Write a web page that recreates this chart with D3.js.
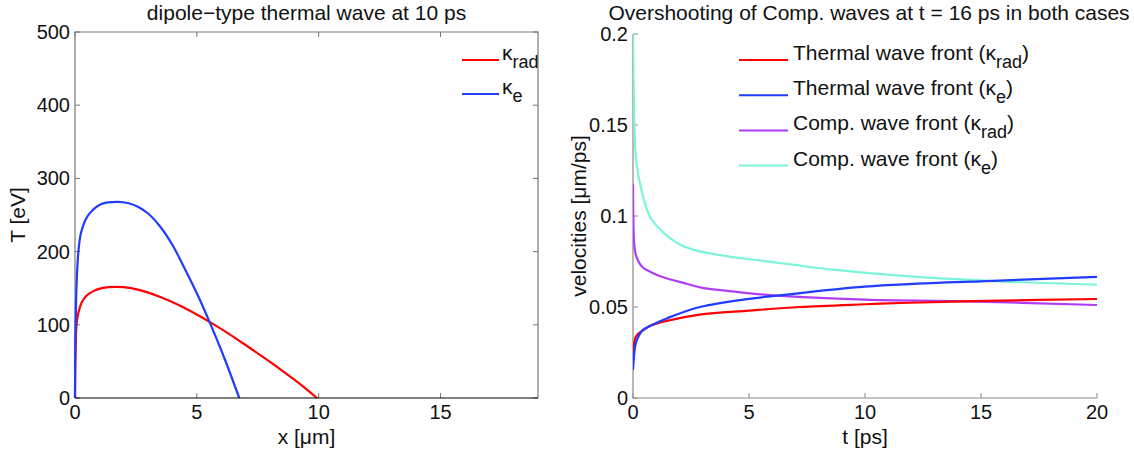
<!DOCTYPE html>
<html>
<head>
<meta charset="utf-8">
<script src="https://cdn.jsdelivr.net/npm/d3@7"></script>
<style>
  html, body { margin: 0; padding: 0; background: #fff; }
  svg { display: block; }
  text { font-family: "Liberation Sans", Arial, Helvetica, sans-serif; fill: #111; }
</style>
</head>
<body>
<svg id="chart" width="1134" height="453"></svg>
<script>
// ---------- Left panel data: temperature profiles at 10 ps ----------
const leftTitle = "dipole\u2212type thermal wave at 10 ps";
const leftXTicks = [0, 5, 10, 15];
const leftYTicks = [0, 100, 200, 300, 400, 500];
const xRad = [0, 0.02, 0.07, 0.15, 0.27, 0.45, 0.75, 1.1, 1.71, 2.3, 2.81, 3.5, 4.32, 5.0, 5.52, 6.3, 7.06, 7.8, 8.43, 9.2, 9.93];
const tRad = [0, 60, 103, 118, 130, 139, 146, 150, 151.7, 150, 146, 138, 126, 114, 104, 88, 71, 54, 39, 20, 0];
const xE   = [0, 0.02, 0.05, 0.09, 0.14, 0.25, 0.53, 1.08, 1.78, 2.2, 2.6, 3.0, 3.5, 4.0, 4.5, 5.0, 5.52, 6.1, 6.74];
const tE   = [0, 90, 140, 175, 200, 226, 249, 265, 268, 266, 261, 252, 234, 209, 177, 143, 104, 57, 0];

// ---------- Right panel data: front velocities ----------
const rightTitle = "Overshooting of Comp. waves at t = 16 ps in both cases";
const rightXTicks = [0, 5, 10, 15, 20];
const rightYTicks = [0, 0.05, 0.1, 0.15, 0.2];
const rightYLabels = ["0", "0.05", "0.1", "0.15", "0.2"];
const tThRad = [0, 0.05, 0.1, 0.2, 0.4, 0.8, 1.5, 2.88, 5, 7.2, 10, 11.5, 15.8, 20];
const vThRad = [0.0237, 0.030, 0.033, 0.035, 0.037, 0.040, 0.0425, 0.0458, 0.048, 0.050, 0.0515, 0.0522, 0.0535, 0.0544];
const tThE   = [0, 0.05, 0.1, 0.2, 0.4, 0.8, 1.5, 2.88, 5, 6.2, 10, 15.8, 20];
const vThE   = [0.0155, 0.024, 0.029, 0.033, 0.037, 0.040, 0.044, 0.050, 0.0545, 0.0562, 0.0612, 0.0645, 0.0665];
const tCpRad = [0, 0.02, 0.05, 0.1, 0.2, 0.4, 0.8, 1.2, 2.3, 3, 4, 6.2, 10, 14.4, 20];
const vCpRad = [0.1177, 0.095, 0.085, 0.080, 0.076, 0.072, 0.069, 0.0668, 0.0628, 0.0605, 0.059, 0.0562, 0.054, 0.0531, 0.0511];
const tCpE   = [0, 0.03, 0.07, 0.15, 0.36, 0.72, 1.1, 1.58, 2.0, 2.59, 3.74, 5.75, 8.63, 11.5, 15.8, 20];
const vCpE   = [0.2, 0.17, 0.147, 0.129, 0.1145, 0.0998, 0.0935, 0.088, 0.0845, 0.0815, 0.0785, 0.0751, 0.0705, 0.0672, 0.0641, 0.0623];

const legendLeft = [
  {k: "rad", color: "#ff0000"},
  {k: "e",   color: "#1f3cff"}
];
const legendRight = [
  {label: "Thermal wave front (", k: "rad", color: "#ff0000"},
  {label: "Thermal wave front (", k: "e",   color: "#1f3cff"},
  {label: "Comp. wave front (",   k: "rad", color: "#b13cf5"},
  {label: "Comp. wave front (",   k: "e",   color: "#7af5d9"}
];

const svg = d3.select("#chart");
svg.append("rect").attr("width", 1134).attr("height", 453).attr("fill", "#fff");

const FS_TICK = 20, FS_LAB = 21, FS_TITLE = 21, FS_LEG = 21, FS_SUB = 18;
const zip = (xs, ys) => xs.map((x, i) => [x, ys[i]]);
const curve = d3.curveCatmullRom.alpha(0.5);

// ================= LEFT PANEL =================
{
  const x = d3.scaleLinear().domain([0, 19]).range([75, 538]);
  const y = d3.scaleLinear().domain([0, 500]).range([398, 32]);
  const g = svg.append("g");

  g.append("path")
    .attr("d", `M${x(0)},${y(0)}V${y(500)}H${x(19)}V${y(0)}`)
    .attr("fill", "none").attr("stroke", "#7a7a7a").attr("stroke-width", 1.2);

  leftXTicks.forEach(v => {
    g.append("line").attr("x1", x(v)).attr("x2", x(v)).attr("y1", y(0)).attr("y2", y(0) - 5).attr("stroke", "#777");
    g.append("line").attr("x1", x(v)).attr("x2", x(v)).attr("y1", y(500)).attr("y2", y(500) + 5).attr("stroke", "#777");
  });
  leftYTicks.forEach(v => {
    g.append("line").attr("x1", x(0)).attr("x2", x(0) + 5).attr("y1", y(v)).attr("y2", y(v)).attr("stroke", "#777");
    g.append("line").attr("x1", x(19)).attr("x2", x(19) - 5).attr("y1", y(v)).attr("y2", y(v)).attr("stroke", "#777");
  });

  const line = d3.line().x(d => x(d[0])).y(d => y(d[1])).curve(curve);
  g.append("path").datum(zip(xRad, tRad)).attr("d", line)
    .attr("fill", "none").attr("stroke", legendLeft[0].color).attr("stroke-width", 2.2);
  g.append("path").datum(zip(xE, tE)).attr("d", line)
    .attr("fill", "none").attr("stroke", legendLeft[1].color).attr("stroke-width", 2.2);

  g.append("line").attr("x1", x(0)).attr("x2", x(19)).attr("y1", y(0)).attr("y2", y(0))
    .attr("stroke", "#000").attr("stroke-width", 1.2);

  leftXTicks.forEach(v => {
    g.append("text").attr("x", x(v)).attr("y", y(0) + 21).attr("text-anchor", "middle")
      .attr("font-size", FS_TICK).text(v);
  });
  leftYTicks.forEach(v => {
    g.append("text").attr("x", x(0) - 5).attr("y", y(v) + 7).attr("text-anchor", "end")
      .attr("font-size", FS_TICK).text(v);
  });

  g.append("text").attr("x", (x(0) + x(19)) / 2).attr("y", 444).attr("text-anchor", "middle")
    .attr("font-size", FS_LAB).text("x [\u03bcm]");
  g.append("text").attr("transform", `translate(25,${(y(0) + y(500)) / 2}) rotate(-90)`)
    .attr("text-anchor", "middle").attr("font-size", FS_LAB).text("T [eV]");
  g.append("text").attr("x", (x(0) + x(19)) / 2).attr("y", 20).attr("text-anchor", "middle")
    .attr("font-size", FS_TITLE).text(leftTitle);

  legendLeft.forEach((d, i) => {
    const ly = 60 + i * 34;
    g.append("line").attr("x1", 462).attr("x2", 499).attr("y1", ly).attr("y2", ly)
      .attr("stroke", d.color).attr("stroke-width", 2);
    const t = g.append("text").attr("x", 502).attr("y", ly).attr("font-size", FS_LEG);
    t.append("tspan").text("\u03ba");
    t.append("tspan").attr("dy", 8).attr("font-size", FS_SUB).text(d.k);
  });
}

// ================= RIGHT PANEL =================
{
  const x = d3.scaleLinear().domain([0, 20]).range([633, 1097]);
  const y = d3.scaleLinear().domain([0, 0.2]).range([398, 34]);
  const g = svg.append("g");

  const defs = svg.append("defs");
  defs.append("clipPath").attr("id", "clipR").append("rect")
    .attr("x", x(0)).attr("y", y(0.2)).attr("width", x(20) - x(0)).attr("height", y(0) - y(0.2));

  g.append("path").attr("d", `M${x(0)},${y(0.2)}V${y(0)}H${x(20)}`)
    .attr("fill", "none").attr("stroke", "#8a8a8a").attr("stroke-width", 1.2);
  rightXTicks.forEach(v => {
    g.append("line").attr("x1", x(v)).attr("x2", x(v)).attr("y1", y(0)).attr("y2", y(0) - 5).attr("stroke", "#8a8a8a");
    g.append("text").attr("x", x(v)).attr("y", y(0) + 21).attr("text-anchor", "middle")
      .attr("font-size", FS_TICK).text(v);
  });
  rightYTicks.forEach((v, i) => {
    g.append("line").attr("x1", x(0)).attr("x2", x(0) + 5).attr("y1", y(v)).attr("y2", y(v)).attr("stroke", "#8a8a8a");
    g.append("text").attr("x", x(0) - 5).attr("y", y(v) + 7).attr("text-anchor", "end")
      .attr("font-size", FS_TICK).text(rightYLabels[i]);
  });

  const line = d3.line().x(d => x(d[0])).y(d => y(d[1])).curve(curve);
  const series = [
    [tCpE, vCpE, legendRight[3].color],
    [tCpRad, vCpRad, legendRight[2].color],
    [tThRad, vThRad, legendRight[0].color],
    [tThE, vThE, legendRight[1].color]
  ];
  series.forEach(([ts, vs, c]) => {
    g.append("path").datum(zip(ts, vs)).attr("d", line).attr("clip-path", "url(#clipR)")
      .attr("fill", "none").attr("stroke", c).attr("stroke-width", 2.2);
  });

  g.append("text").attr("x", (x(0) + x(20)) / 2).attr("y", 444).attr("text-anchor", "middle")
    .attr("font-size", FS_LAB).text("t [ps]");
  g.append("text").attr("transform", `translate(586,${(y(0) + y(0.2)) / 2}) rotate(-90)`)
    .attr("text-anchor", "middle").attr("font-size", FS_LAB).text("velocities [\u03bcm/ps]");
  g.append("text").attr("x", 869).attr("y", 20).attr("text-anchor", "middle")
    .attr("font-size", FS_TITLE).text(rightTitle);

  legendRight.forEach((d, i) => {
    const ly = 60 + i * 35.2;
    g.append("line").attr("x1", 739).attr("x2", 788).attr("y1", ly).attr("y2", ly)
      .attr("stroke", d.color).attr("stroke-width", 2);
    const t = g.append("text").attr("x", 793).attr("y", ly).attr("font-size", FS_LEG);
    t.append("tspan").text(d.label + "\u03ba");
    t.append("tspan").attr("dy", 8).attr("font-size", FS_SUB).text(d.k);
    t.append("tspan").attr("dy", -8).text(")");
  });
}
</script>
</body>
</html>
